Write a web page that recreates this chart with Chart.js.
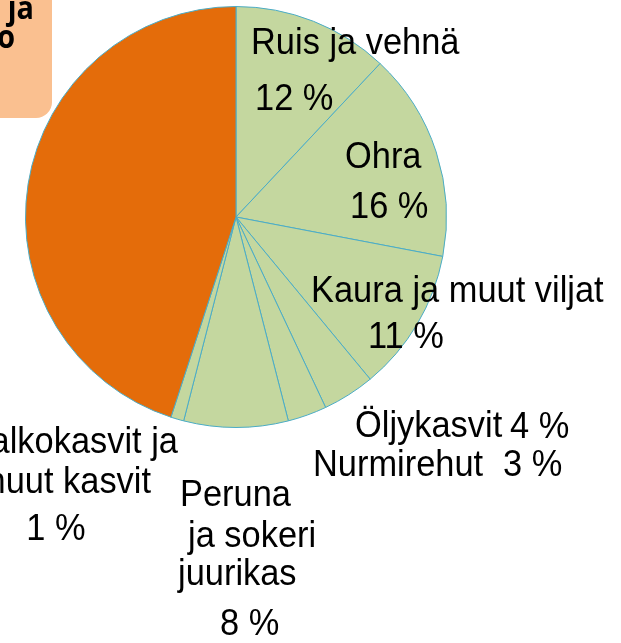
<!DOCTYPE html>
<html>
<head>
<meta charset="utf-8">
<script src="https://cdn.jsdelivr.net/npm/chart.js@4/dist/chart.umd.min.js"></script>
<style>
  html, body { margin: 0; padding: 0; background: #fff; }
  #wrap { position: relative; width: 621px; height: 643px; }
</style>
</head>
<body>
<div id="wrap"><canvas id="piirakka"></canvas></div>
<script>
// osuudet (%)
var kategoriat = ["Ruis ja vehnä", "Ohra", "Kaura ja muut viljat", "Öljykasvit", "Nurmirehut", "Peruna ja sokerijuurikas", "Palkokasvit ja muut kasvit", "Kotieläintuotanto"];
var osuudet = [12, 16, 11, 4, 3, 8, 1, 45];
var varit = ["#C4D79F", "#C4D79F", "#C4D79F", "#C4D79F", "#C4D79F", "#C4D79F", "#C4D79F", "#E46C0A"];

// tekstit kuvan päällä
var tekstit = [
  { t: "Ruis ja vehnä", x: 251, y: 54, a: "left" },
  { t: "12 %", x: 255, y: 110, a: "left" },
  { t: "Ohra", x: 345, y: 168, a: "left" },
  { t: "16 %", x: 350, y: 218, a: "left" },
  { t: "Kaura ja muut viljat", x: 311, y: 302, a: "left" },
  { t: "11 %", x: 368, y: 348, a: "left" },
  { t: "Öljykasvit", x: 355, y: 437, a: "left" },
  { t: "4 %", x: 510, y: 438, a: "left" },
  { t: "Nurmirehut", x: 313, y: 476, a: "left" },
  { t: "3 %", x: 503, y: 476, a: "left" },
  { t: "Palkokasvit ja", x: 178, y: 453, a: "right" },
  { t: "muut kasvit", x: 151, y: 493, a: "right" },
  { t: "1 %", x: 56, y: 540, a: "center" },
  { t: "Peruna", x: 180, y: 506, a: "left" },
  { t: "ja sokeri", x: 188, y: 547, a: "left" },
  { t: "juurikas", x: 178, y: 585, a: "left" },
  { t: "8 %", x: 220, y: 635, a: "left" }
];

// vasemman yläkulman laatikko (teksti jatkuu kuvan reunan yli)
var laatikkoRivit = [
  ["Kotieläin", -6, 19],
  ["ja", 34, 19],
  ["tuotanto", 15, 48]
];

const laatikkoPlugin = {
  id: "laatikko",
  beforeDraw(chart) {
    const ctx = chart.ctx;
    ctx.save();
    ctx.fillStyle = "#FAC090";
    ctx.beginPath();
    ctx.roundRect(-40, -40, 92, 158, 16);
    ctx.fill();
    ctx.fillStyle = "#000";
    ctx.font = "bold 32px 'Open Sans'";
    ctx.textAlign = "right";
    ctx.textBaseline = "alphabetic";
    laatikkoRivit.forEach((r) => {
      ctx.save();
      ctx.translate(r[1], r[2]);
      ctx.scale(0.9, 1);
      ctx.fillText(r[0], 0, 0);
      ctx.restore();
    });
    ctx.restore();
  },
};

// tekstit hieman kapeampina kuin tavallinen Arial
const tekstiPlugin = {
  id: "tekstit",
  afterDraw(chart) {
    const ctx = chart.ctx;
    ctx.fillStyle = "#000";
    ctx.font = "37px 'Liberation Sans'";
    ctx.textBaseline = "alphabetic";
    tekstit.forEach((r) => {
      ctx.save();
      ctx.translate(r.x, r.y);
      ctx.scale(0.93, 1);
      ctx.textAlign = r.a;
      ctx.fillText(r.t, 0, 0);
      ctx.restore();
    });
  },
};

var piirakkaConfig = {
  type: "pie",
  data: {
    labels: kategoriat,
    datasets: [
      {
        data: osuudet,
        backgroundColor: varit,
        borderColor: "#4BACC6",
        borderWidth: 1,
      },
    ],
  },
  options: {
    responsive: true,
    maintainAspectRatio: false,
    animation: false,
    devicePixelRatio: 1,
    events: [],
    rotation: 0,
    layout: {
      padding: { left: 25, top: 6, right: 174, bottom: 215 },
    },
    plugins: {
      legend: { display: false },
      tooltip: { enabled: false },
    },
  },
  plugins: [laatikkoPlugin, tekstiPlugin],
};

new Chart(document.getElementById("piirakka"), piirakkaConfig);
</script>
</body>
</html>
